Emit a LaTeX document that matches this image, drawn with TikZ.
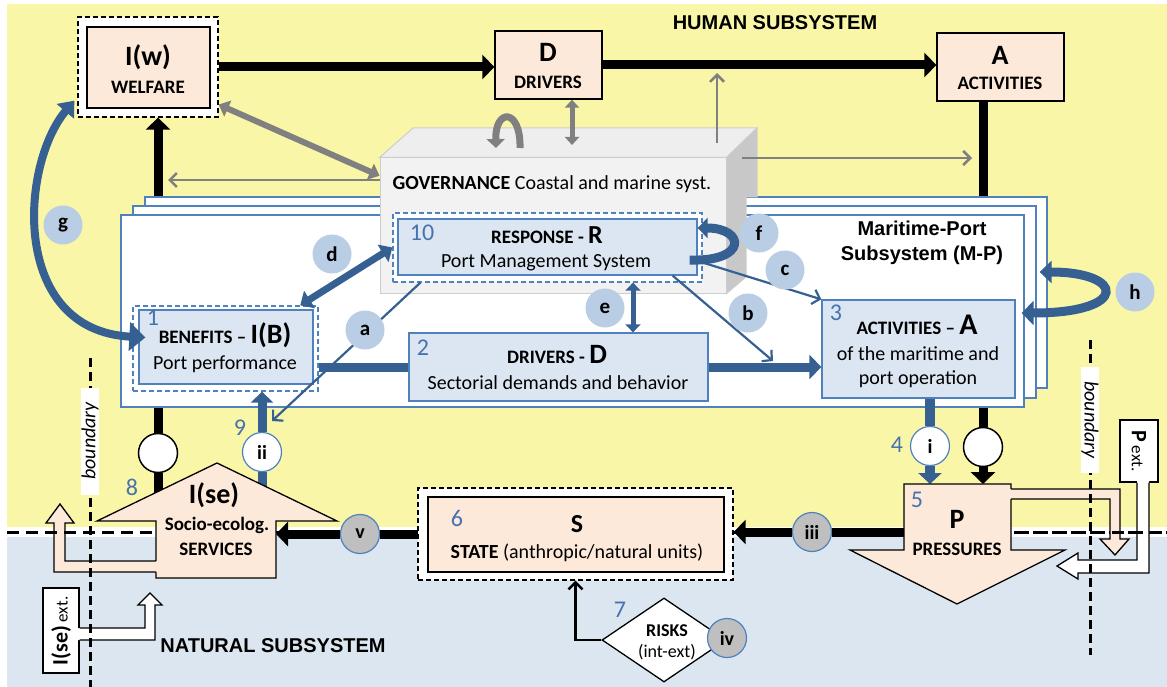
\documentclass[tikz,border=0pt]{standalone}
\usepackage{fontspec}
\setmainfont{Carlito}
\newfontfamily\arialf{Liberation Sans}
\usetikzlibrary{arrows.meta,shapes.geometric,calc}
\newcommand\fsz[1]{\fontsize{#1}{#1}\selectfont}
\definecolor{ybg}{RGB}{250,246,168}
\definecolor{bbg}{RGB}{220,230,241}
\definecolor{peach}{RGB}{253,233,217}
\definecolor{lblue}{RGB}{220,230,242}
\definecolor{bborder}{RGB}{79,129,189}
\definecolor{barrow}{RGB}{55,96,146}
\definecolor{lcirc}{RGB}{185,205,229}
\definecolor{gcirc}{RGB}{191,191,191}
\definecolor{numc}{RGB}{70,115,175}
\definecolor{garrow}{RGB}{128,128,128}
\definecolor{govf}{RGB}{242,242,242}
\definecolor{govt}{RGB}{238,238,238}
\definecolor{govs}{RGB}{200,200,200}
\definecolor{govb}{RGB}{205,205,205}
\begin{document}
\begin{tikzpicture}[x=1pt,y=-1pt,font=\fsz{20},
 lbl/.style={circle, fill=lcirc, minimum size=39pt, inner sep=0pt, font=\fsz{21}\bfseries},
 rom/.style={circle, draw=bborder, line width=1.2pt, minimum size=39pt, inner sep=0pt, font=\fsz{20}\bfseries},
 bcirc/.style={circle, draw=black, fill=white, line width=1.5pt, minimum size=39pt, inner sep=0pt},
 num/.style={text=numc, font=\fsz{24}, inner sep=0pt},
 pbox/.style={rectangle, draw=black, fill=peach, line width=1.3pt, inner sep=0pt},
 dbox/.style={rectangle, draw=black, dash pattern=on 5pt off 3pt, fill=white, line width=1.3pt, inner sep=0pt},
 bbox/.style={rectangle, draw=bborder, fill=lblue, line width=1.3pt, inner sep=0pt},
 bdbox/.style={rectangle, draw=bborder, dash pattern=on 5pt off 3pt, fill=white, line width=1.3pt, inner sep=0pt},
 mpbox/.style={rectangle, draw=bborder, fill=white, line width=1.3pt, inner sep=0pt},
 blk/.style={line width=9pt, draw=black},
 blkarr/.style={blk, -{Triangle[length=12pt,width=24pt]}},
 bth/.style={line width=9pt, draw=barrow},
 bthin/.style={line width=2.2pt, draw=barrow, -{Straight Barb[length=7pt,width=15pt]}},
 gthin/.style={line width=2.5pt, draw=garrow, -{Straight Barb[length=7pt,width=14pt]}},
 bnd/.style={line width=3pt, draw=black, dash pattern=on 9pt off 5pt},
 hbnd/.style={line width=3pt, draw=black, dash pattern=on 12pt off 7pt},
 shape1/.style={fill=peach},
 shape1d/.style={draw=black, line width=1.3pt, line join=miter},
 wshape/.style={fill=white},
 wshaped/.style={draw=black, line width=1.3pt}
]
\useasboundingbox (0,0) rectangle (1167,687);
% backgrounds
\fill[ybg] (7,4) rectangle (1167,527);
\fill[white] (7,527) rectangle (1167,537);
\fill[bbg] (7,537) rectangle (1167,687);
\draw[hbnd] (7,532) -- (1167,532);

% top boxes
\node[dbox, minimum width=140pt, minimum height=100pt] (wout) at (148,67) {};
\node[pbox, minimum width=123pt, minimum height=81pt] (win) at (148.5,67.5) {};
\node[font=\fsz{28}\bfseries] (wt1) at (148,57) {I(w)};
\node[font=\fsz{19}\bfseries] (wt2) at (148,87) {WELFARE};
\node[pbox, minimum width=107pt, minimum height=68pt] (dbx) at (548.5,65) {};
\node[font=\fsz{28}\bfseries] (dt1) at (548,52) {D};
\node[font=\fsz{19}\bfseries] (dt2) at (548,82) {DRIVERS};
\node[pbox, minimum width=127pt, minimum height=68pt] (abx) at (1000.5,67) {};
\node[font=\fsz{28}\bfseries] (at1) at (1000,55) {A};
\node[font=\fsz{19}\bfseries] (at2) at (1000,83) {ACTIVITIES};
\node[font=\arialf\fsz{20}\bfseries] (hum) at (775,23) {HUMAN SUBSYSTEM};

% black connectors in upper part
\draw[blkarr] (wout.east) -- (wout.east -| dbx.west);
\draw[blkarr] (dbx.east) -- (dbx.east -| abx.west);
\node[bcirc] (cL) at (158,453) {};
\node[bcirc] (cR) at (983,447) {};
\coordinate (rfL) at (158,500);
\coordinate (pT) at (957,484);
\draw[blk] (rfL) -- (cL);
\draw[blkarr] (cL) -- (cL |- wout.south);
\draw[blk] (cR |- abx.south) -- (cR);
\draw[blkarr] (cR) -- (cR |- pT);

% maritime-port subsystem
\node[mpbox, minimum width=902pt, minimum height=191pt] (mp1) at (596,292.5) {};
\node[mpbox, minimum width=903pt, minimum height=192pt] (mp2) at (584.5,302) {};
\node[mpbox, minimum width=903pt, minimum height=192pt] (mp3) at (572.5,311) {};
\node[font=\arialf\fontsize{20}{25}\selectfont\bfseries, align=center] (mpt) at (922,243) {Maritime-Port\\Subsystem (M-P)};

% governance 3D box
\node[fill=govf, draw=govb, line width=1pt, minimum width=346pt, minimum height=135pt, inner sep=0pt] (gov) at (553,225.5) {};
\path[fill=govt, draw=govb, line width=1pt] (gov.north west) -- (413,128) -- (757,128) -- (gov.north east) -- cycle;
\path[fill=govs, draw=govb, line width=1pt] (gov.north east) -- (757,128) -- (757,197) -- (746,197) -- (746,277) -- (gov.south east) -- cycle;
\node (govtx) at (552,184) {\textbf{GOVERNANCE} Coastal and marine syst.};

% grey arrows
\draw[draw=garrow, line width=6pt, {Triangle[length=10pt,width=17pt]}-{Triangle[length=10pt,width=17pt]}] (wout.-28) -- (gov.164);
\coordinate (glt) at (168,180);
\draw[gthin] ([yshift=45.5pt]gov.west) -- (glt);
\coordinate (ut1) at (520,148);
\coordinate (ut2) at (496,148);
\draw[draw=garrow, line width=7pt, -{Triangle[length=9pt,width=18pt]}] (ut1) .. controls (521,108) and (495,108) .. (ut2);
\coordinate (dg) at (572,145);
\draw[draw=garrow, line width=5pt, {Triangle[length=8pt,width=14pt]}-{Triangle[length=8pt,width=14pt]}] ([xshift=23.5pt]dbx.south) -- (dg);
\coordinate (gu1) at (717,143);
\coordinate (gu2) at (717,73);
\draw[gthin] (gu1) -- (gu2);
\coordinate (gr1) at (742,158);
\coordinate (gr2) at (972,158);
\draw[gthin] (gr1) -- (gr2);

% RESPONSE
\node[bdbox, minimum width=309pt, minimum height=69pt] (rout) at (547.5,247.5) {};
\node[bbox, minimum width=299pt, minimum height=56pt] (rin) at (547.5,247) {};
\node[num] (n10) at (422,233) {10};
\node (rt1) at (547,235) {\fsz{19}\bfseries RESPONSE - \fsz{26}R};
\node (rt2) at (546,263) {Port Management System};

% BENEFITS
\node[bdbox, minimum width=185pt, minimum height=85pt] (bout) at (225.5,348.5) {};
\node[bbox, minimum width=174pt, minimum height=74pt] (bin) at (226,347) {};
\node[num] (n1) at (153,318) {1};
\node (bt1) at (225,335) {\fsz{19}\bfseries BENEFITS -- \fsz{28}I(B)};
\node (bt2) at (225,364) {Port performance};

% DRIVERS 2
\node[bbox, minimum width=299pt, minimum height=68pt] (drv) at (558.5,367) {};
\node[num] (n2) at (423,348) {2};
\node (drt1) at (557,354) {\fsz{19}\bfseries DRIVERS - \fsz{28}D};
\node (drt2) at (558,383) {Sectorial demands and behavior};

% ACTIVITIES 3
\node[bbox, minimum width=193pt, minimum height=98pt] (act) at (918.5,349) {};
\node[num] (n3) at (836,313) {3};
\node (act1) at (917,325) {\fsz{19}\bfseries ACTIVITIES -- \fsz{30}A};
\node[align=center, font=\fontsize{20}{24}\selectfont] (act2) at (918,367) {of the maritime and\\port operation};

% blue connectors
\draw[bth] (bout.east |- drv.west) -- (drv.west);
\draw[bth, -{Triangle[length=12pt,width=24pt]}] (drv.east) -- (drv.east -| act.west);
\draw[draw=barrow, line width=7pt, {Triangle[length=11pt,width=20pt]}-{Triangle[length=11pt,width=20pt]}] (bout.30) -- (rout.west);
\draw[draw=barrow, line width=5pt, {Triangle[length=8pt,width=15pt]}-{Triangle[length=8pt,width=15pt]}] ([xshift=85.5pt]rout.south) -- ([xshift=74.5pt]drv.north);
\coordinate (aE) at (272,421);
\draw[bthin] ([xshift=28pt]rout.south west) -- (aE);
\coordinate (bE) at (773,361);
\draw[bthin] ([xshift=-25pt]rin.south east) -- (bE);
\draw[bthin] ([yshift=-14pt]rin.east) -- (act.north west);
\draw[bth, -{Triangle[length=10pt,width=20pt]}] ([xshift=-8pt,yshift=-13pt]rin.east) .. controls (748,262) and (745,228) .. ([yshift=19pt]rin.east);
\draw[draw=barrow, line width=8pt, {Triangle[length=14pt,width=22pt]}-{Triangle[length=16pt,width=28pt]}] ([xshift=-3pt,yshift=17pt]wout.south west) .. controls (20,165) and (10,330) .. ([xshift=13pt,yshift=11pt]bout.west);
\draw[bth, {Triangle[length=12pt,width=22pt]}-{Triangle[length=12pt,width=24pt]}] ([xshift=-8pt,yshift=20.5pt]mp1.east) .. controls (1125,272) and (1130,313) .. ([xshift=6pt,yshift=36pt]act.east);
\node[rom, fill=white] (cii) at (262,452) {ii};
\node[rom, fill=white] (ci) at (930,446) {i};
\coordinate (rfii) at (262,490);
\draw[bth] (rfii) -- (cii);
\draw[bth, -{Triangle[length=11pt,width=22pt]}] (cii) -- (cii |- bout.south);
\draw[draw=barrow, line width=10pt] (ci |- act.south) -- (ci);
\draw[draw=barrow, line width=10pt, -{Triangle[length=11pt,width=23pt]}] (ci) -- (ci |- pT);

% STATE
\node[dbox, minimum width=315pt, minimum height=92pt] (sout) at (575.5,534) {};
\node[pbox, minimum width=296pt, minimum height=75pt] (sin) at (576,534.5) {};
\node[num] (n6) at (457,518) {6};
\node[font=\fsz{26}\bfseries] (st1) at (577,524) {S};
\node (st2) at (577,553) {\textbf{STATE} (anthropic/natural units)};

% RISKS
\node[diamond, draw=black, fill=white, line width=1.3pt, minimum width=124pt, minimum height=84pt, inner sep=0pt] (risk) at (664,640) {};
\node[align=center, font=\fontsize{18}{21}\selectfont] (rkt) at (667,642) {\textbf{RISKS}\\(int-ext)};
\node[num] (n7) at (620,610) {7};
\draw[line width=2.5pt, -{Straight Barb[length=7pt,width=14pt]}] (risk.west) -| (sout.south);

% lower black connectors
\node[rom, fill=gcirc] (ciii) at (812,532) {iii};
\node[rom, fill=gcirc] (cv) at (360,534) {v};
\coordinate (pW) at (904,532);
\coordinate (seE) at (276,534);
\draw[blk] (pW) -- (ciii);
\draw[blkarr] (ciii) -- (sout.east |- ciii);
\draw[blk] (sout.west |- cv) -- (cv);
\draw[blkarr] (cv) -- (seE);

% I(se) shape
\path[shape1] (156,521) -- (97,521) -- (217,463) -- (337,521) -- (276,521) -- (276,578) -- (156,578) -- cycle;
\draw[shape1d] (156,521) -- (97,521) -- (217,463) -- (337,521) -- (276,521) -- (276,578) -- (156,578) -- cycle;
\path[shape1] (170,561) -- (65,561) -- (65,523) -- (74,523) -- (60,504) -- (46,523) -- (54,523) -- (54,572) -- (170,572) -- cycle;
\draw[shape1d] (156,561) -- (65,561) -- (65,523) -- (74,523) -- (60,504) -- (46,523) -- (54,523) -- (54,572) -- (156,572);
\node[font=\fsz{28}\bfseries] (set1) at (214,495) {I(se)};
\node[font=\fsz{19}\bfseries] (set2) at (217,525) {Socio-ecolog.};
\node[font=\fsz{19}\bfseries] (set3) at (216,549) {SERVICES};
\node[num] (n8) at (132,487) {8};
\node[num] (n9) at (240,428) {9};

% P shape
\path[shape1] (904,484) -- (1011,484) -- (1011,550) -- (1065,550) -- (957,604) -- (850,550) -- (904,550) -- cycle;
\draw[shape1d] (904,484) -- (1011,484) -- (1011,550) -- (1065,550) -- (957,604) -- (850,550) -- (904,550) -- cycle;
\path[shape1] (1000,489) -- (1120,489) -- (1120,539) -- (1129,539) -- (1115,555) -- (1100,539) -- (1110,539) -- (1110,499) -- (1000,499) -- cycle;
\draw[shape1d] (1011,489) -- (1120,489) -- (1120,539) -- (1129,539) -- (1115,555) -- (1100,539) -- (1110,539) -- (1110,499) -- (1011,499);
\node[font=\fsz{28}\bfseries] (pt1) at (957,519) {P};
\node[font=\fsz{19}\bfseries] (pt2) at (957,549) {PRESSURES};
\node[num] (n5) at (917,500) {5};
\node[num] (n4) at (897,445) {4};

% external boxes
\node[draw=black, fill=white, line width=1.3pt, minimum width=36pt, minimum height=85pt, inner sep=0pt] (isx) at (61,630.5) {};
\node[rotate=90, inner sep=0pt] (isxt) at (61,631) {\fsz{22}\bfseries I(se)\,\mdseries\fsz{17}ext.};
\path[wshape] (75,628) -- (145,628) -- (145,605) -- (138,605) -- (150,593) -- (162,605) -- (155,605) -- (155,640) -- (75,640) -- cycle;
\draw[wshaped] (isx.east |- 0,628) -- (145,628) -- (145,605) -- (138,605) -- (150,593) -- (162,605) -- (155,605) -- (155,640) -- (isx.east |- 0,640);
\node[draw=black, fill=white, line width=1.3pt, minimum width=38pt, minimum height=62pt, inner sep=0pt] (pex) at (1139,451) {};
\node[rotate=-90, inner sep=0pt] (pext) at (1139,451) {\fsz{22}\bfseries P\,\mdseries\fsz{17}ext.};
\path[wshape] (1137,478) -- (1137,560) -- (1078,560) -- (1078,553) -- (1057,566) -- (1078,579) -- (1078,573) -- (1149,573) -- (1149,478) -- cycle;
\draw[wshaped] (pex.south -| 1137,0) -- (1137,560) -- (1078,560) -- (1078,553) -- (1057,566) -- (1078,579) -- (1078,573) -- (1149,573) -- (pex.south -| 1149,0);

% boundary dashes over bands
\draw[hbnd] (7,532) -- (156,532);
\draw[hbnd] (1017,532) -- (1167,532);

% vertical boundaries
\draw[bnd] (90,358) -- (90,687);
\node[rotate=90, fill=white, inner sep=0pt, minimum width=107pt, minimum height=17pt, font=\itshape\fsz{20}] (bndL) at (90,441) {boundary};
\draw[bnd] (1090,340) -- (1090,655);
\node[rotate=-90, fill=white, inner sep=0pt, minimum width=106pt, minimum height=17pt, font=\itshape\fsz{20}] (bndR) at (1090,420) {boundary};

% label circles
\node[lbl] (ca) at (365,330) {a};
\node[lbl] (cb) at (748,313) {b};
\node[lbl] (cc) at (785,270) {c};
\node[lbl] (cd) at (332,254) {d};
\node[lbl] (ce) at (605,308) {e};
\node[lbl] (cf) at (759,233) {f};
\node[lbl] (cg) at (63,225) {g};
\node[lbl] (ch) at (1135,292) {h};
\node[rom, fill=gcirc] (civ) at (727,638) {iv};

\node[font=\arialf\fsz{20}\bfseries] (nat) at (273,646) {NATURAL SUBSYSTEM};
\end{tikzpicture}
\end{document}
